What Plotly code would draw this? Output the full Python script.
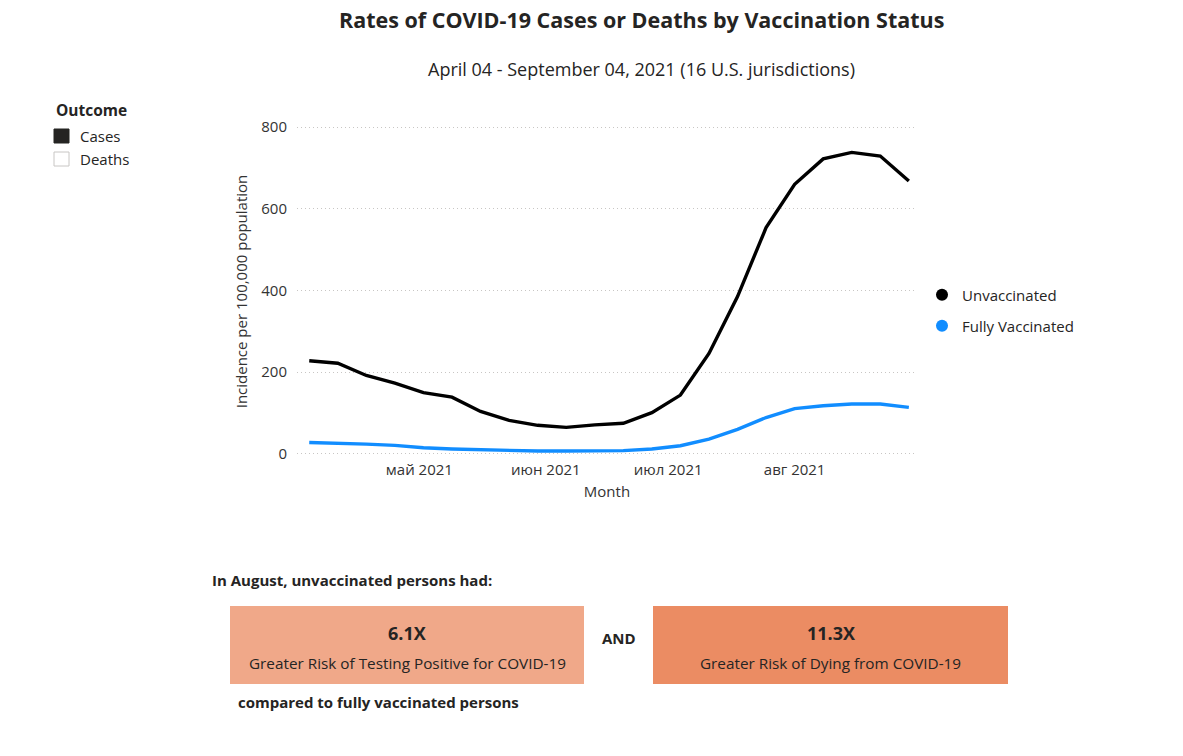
import plotly.graph_objects as go

# ---- data ----
week_start = ["2021-04-04", "2021-04-11", "2021-04-18", "2021-04-25", "2021-05-02", "2021-05-09",
              "2021-05-16", "2021-05-23", "2021-05-30", "2021-06-06", "2021-06-13", "2021-06-20",
              "2021-06-27", "2021-07-04", "2021-07-11", "2021-07-18", "2021-07-25", "2021-08-01",
              "2021-08-08", "2021-08-15", "2021-08-22", "2021-08-29"]
unvaccinated = [228, 222, 192, 173, 150, 139, 104, 82, 70, 65, 71, 75,
                101, 144, 246, 385, 554, 660, 722, 738, 729, 668]
fully_vaccinated = [28, 27, 24, 21, 15, 12, 10, 8, 7, 7, 7, 8,
                    12, 20, 36, 60, 89, 111, 118, 122, 122, 114]
month_ticks = ["2021-05-01", "2021-06-01", "2021-07-01", "2021-08-01"]
month_labels = ["май 2021", "июн 2021", "июл 2021", "авг 2021"]
y_ticks = [0, 200, 400, 600, 800]
outcome_items = ["Cases", "Deaths"]
ratio_values = ["6.1X", "11.3X"]
ratio_texts = ["Greater Risk of Testing Positive for COVID-19", "Greater Risk of Dying from COVID-19"]

W, H = 1183, 756
L, R, T, B = 297, 917, 125, 458
FONT = "Open Sans"
DARK = "#252423"
TICK = "#333333"


def px(x):
    return (x - L) / (R - L)


def py(y):
    return (B - y) / (B - T)


fig = go.Figure()
fig.add_trace(go.Scatter(x=week_start, y=unvaccinated, mode="lines",
                         line=dict(color="#000000", width=3.4), showlegend=False,
                         name="Unvaccinated", cliponaxis=False))
fig.add_trace(go.Scatter(x=week_start, y=fully_vaccinated, mode="lines",
                         line=dict(color="#118DFF", width=3.4), showlegend=False,
                         name="Fully Vaccinated", cliponaxis=False))
# legend entries (marker-only)
fig.add_trace(go.Scatter(x=[None], y=[None], mode="markers", name="Unvaccinated",
                         marker=dict(color="#000000", size=12), legend="legend"))
fig.add_trace(go.Scatter(x=[None], y=[None], mode="markers", name="Fully Vaccinated",
                         marker=dict(color="#118DFF", size=12), legend="legend2"))

legend_common = dict(font=dict(family=FONT, size=15, color=DARK), bgcolor="rgba(0,0,0,0)",
                     xanchor="left", yanchor="middle", itemwidth=30)
fig.update_layout(
    width=W, height=H,
    margin=dict(l=L, r=W - R, t=T, b=H - B),
    paper_bgcolor="white", plot_bgcolor="white",
    font=dict(family=FONT, color=DARK),
    legend=dict(x=px(922), y=py(295), **legend_common),
    legend2=dict(x=px(922), y=py(326), **legend_common),
    xaxis=dict(type="date", range=["2021-04-01", "2021-08-31"], tickvals=month_ticks,
               ticktext=month_labels, showgrid=False, zeroline=False, showline=False,
               ticks="", tickfont=dict(family=FONT, size=15, color=TICK), ticklabelstandoff=1,
               title=dict(text="Month", font=dict(family=FONT, size=15, color=TICK), standoff=8)),
    yaxis=dict(range=[-10, 805], tickvals=y_ticks, showgrid=True, gridcolor="#C8C6C4",
               griddash="1px,3px", gridwidth=1, zeroline=False, showline=False, ticks="",
               tickfont=dict(family=FONT, size=15, color=TICK), ticklabelstandoff=9,
               title=dict(text="Incidence per 100,000 population",
                          font=dict(family=FONT, size=15, color=TICK), standoff=10)),
)

ann = []
shapes = []
# titles
ann.append(dict(x=px(641), y=py(20), xref="paper", yref="paper", showarrow=False,
                text="<b>Rates of COVID-19 Cases or Deaths by Vaccination Status</b>",
                font=dict(family=FONT, size=21.5, color=DARK), xanchor="center", yanchor="middle"))
ann.append(dict(x=px(641), y=py(69), xref="paper", yref="paper", showarrow=False,
                text="April 04 - September 04, 2021 (16 U.S. jurisdictions)",
                font=dict(family=FONT, size=18, color=DARK), xanchor="center", yanchor="middle"))
# outcome legend
ann.append(dict(x=px(54), y=py(110), xref="paper", yref="paper", showarrow=False,
                text="<b>Outcome</b>", font=dict(family=FONT, size=15.5, color=DARK),
                xanchor="left", yanchor="middle"))
for i, item in enumerate(outcome_items):
    yc = 136 + 23 * i
    shapes.append(dict(type="rect", xref="paper", yref="paper",
                       x0=px(54), x1=px(69), y0=py(yc - 7), y1=py(yc + 7),
                       fillcolor=DARK if i == 0 else "white",
                       line=dict(color=DARK if i == 0 else "#C8C6C4", width=1)))
    ann.append(dict(x=px(78), y=py(yc), xref="paper", yref="paper", showarrow=False,
                    text=item, font=dict(family=FONT, size=15, color=DARK),
                    xanchor="left", yanchor="middle"))
# bottom section
ann.append(dict(x=px(210), y=py(580), xref="paper", yref="paper", showarrow=False,
                text="<b>In August, unvaccinated persons had:</b>",
                font=dict(family=FONT, size=15, color=DARK), xanchor="left", yanchor="middle"))
ann.append(dict(x=px(236), y=py(702), xref="paper", yref="paper", showarrow=False,
                text="<b>compared to fully vaccinated persons</b>",
                font=dict(family=FONT, size=15, color=DARK), xanchor="left", yanchor="middle"))
ann.append(dict(x=px(619), y=py(638), xref="paper", yref="paper", showarrow=False,
                text="<b>AND</b>", font=dict(family=FONT, size=15, color=DARK),
                xanchor="center", yanchor="middle"))
boxes = [(230, 584, "#F0A889"), (653, 1008, "#EB8C63")]
for (x0, x1, col), val, txt in zip(boxes, ratio_values, ratio_texts):
    shapes.append(dict(type="rect", xref="paper", yref="paper", x0=px(x0), x1=px(x1),
                       y0=py(684), y1=py(606), fillcolor=col, line=dict(width=0), layer="below"))
    xc = (x0 + x1) / 2
    ann.append(dict(x=px(xc), y=py(633), xref="paper", yref="paper", showarrow=False,
                    text=f"<b>{val}</b>", font=dict(family=FONT, size=18, color=DARK),
                    xanchor="center", yanchor="middle"))
    ann.append(dict(x=px(xc), y=py(663), xref="paper", yref="paper", showarrow=False,
                    text=txt, font=dict(family=FONT, size=15.3, color=DARK),
                    xanchor="center", yanchor="middle"))

fig.update_layout(annotations=ann, shapes=shapes)
fig.write_html("out.html")
